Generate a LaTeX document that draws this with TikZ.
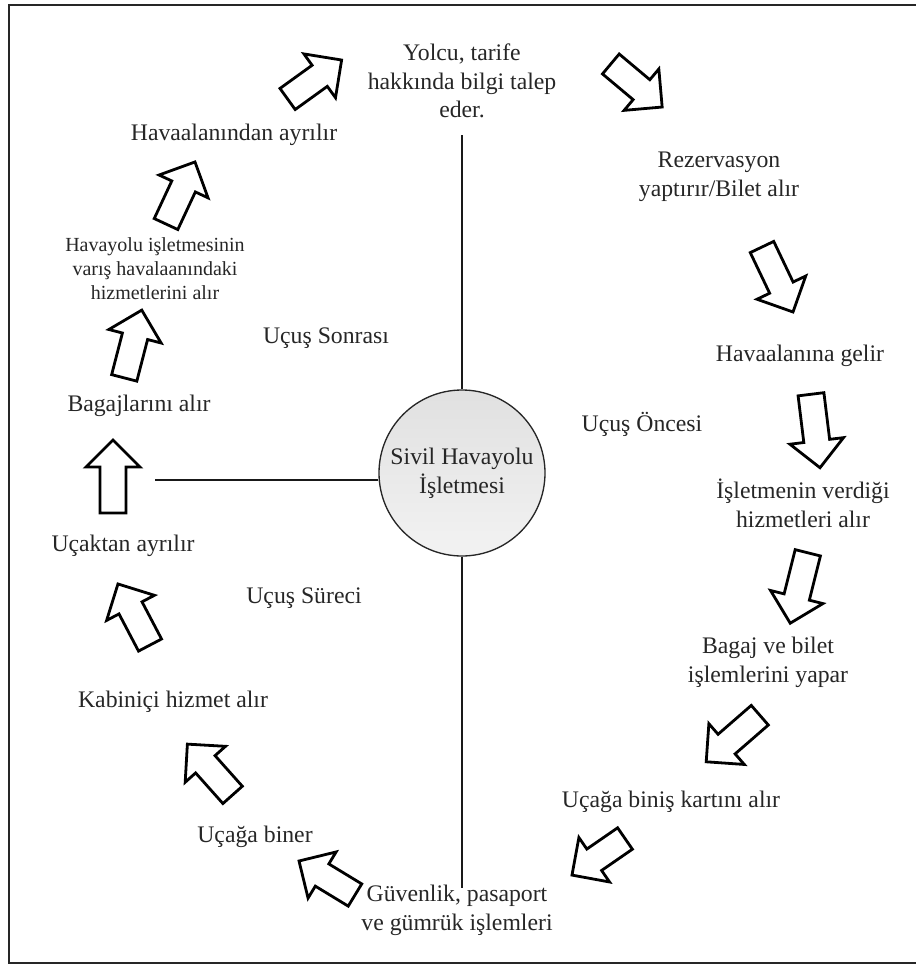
\documentclass[tikz,border=0pt]{standalone}
\usepackage{fontspec}
\setmainfont{Liberation Serif}
\newcommand\barrowat[4]{%
  \draw[blk,shift={(#1,#2)},rotate=#3]
    (-#4/2,-13) -- (#4/2-27,-13) -- (#4/2-27,-27) -- (#4/2,0) --
    (#4/2-27,27) -- (#4/2-27,13) -- (-#4/2,13) -- cycle;}
\begin{document}
\begin{tikzpicture}[x=0.75pt,y=-0.75pt,
  lbl/.style={font=\fontsize{17.8}{21.5}\selectfont, text=black!85, align=center, inner sep=0pt},
  small/.style={font=\fontsize{15}{18}\selectfont, text=black!85, align=center, inner sep=0pt},
  blk/.style={draw=black, line width=2.1pt, fill=white, line join=miter},
  axis/.style={line width=2pt, draw=black!90},
  frame/.style={line width=2.2pt, draw=black!85},
  hubstyle/.style={circle, draw=black!85, line width=1pt, top color=gray!24, bottom color=gray!10,
    minimum size=124.5pt, inner sep=0pt, align=center, text=black!85,
    font=\fontsize{17.8}{21.5}\selectfont}]
\useasboundingbox (0,0) rectangle (915,964);
\draw[frame] (9,5) rectangle (940,963);

% texts
\node[lbl] (yolcu) at (462,81) {Yolcu, tarife\\hakkında bilgi talep\\eder.};
\node[lbl] (rez) at (719,177) {Rezervasyon\\yaptırır/Bilet alır};
\node[lbl] (gelir) at (800,356) {Havaalanına gelir};
\node[lbl] (hizm) at (803,503) {İşletmenin verdiği\\hizmetleri alır};
\node[lbl] (bagaj) at (768,662) {Bagaj ve bilet\\işlemlerini yapar};
\node[lbl] (kart) at (671,802) {Uçağa biniş kartını alır};
\node[lbl] (guv) at (457,910) {Güvenlik, pasaport\\ve gümrük işlemleri};
\node[lbl] (biner) at (255,837) {Uçağa biner};
\node[lbl] (kabin) at (173,702) {Kabiniçi hizmet alır};
\node[lbl] (ucaktan) at (123,546) {Uçaktan ayrılır};
\node[lbl] (bagajlar) at (139,406) {Bagajlarını alır};
\node[small] (varis) at (155,269) {Havayolu işletmesinin\\varış havalaanındaki\\hizmetlerini alır};
\node[lbl] (ayrilir) at (234,135) {Havaalanından ayrılır};
\node[lbl] (sonra) at (326,338) {Uçuş Sonrası};
\node[lbl] (once) at (642,424) {Uçuş Öncesi};
\node[lbl] (surec) at (304,598) {Uçuş Süreci};

% hub and axes
\node[hubstyle] (hub) at (462,473) {Sivil Havayolu\\İşletmesi};
\coordinate (vtop) at (462,135);
\coordinate (vbot) at (462,888);
\coordinate (hleft) at (155,480);
\draw[axis] (vtop) -- (hub.north);
\draw[axis] (hub.south) -- (vbot);
\draw[axis] (hleft) -- (hleft -| hub.west);

% block arrows
\barrowat{314.6}{79.5}{35.8}{66.6}
\barrowat{636.5}{85.5}{-40}{67}
\barrowat{777.5}{279.5}{-64.5}{72}
\barrowat{815.5}{431}{-83}{74}
\barrowat{799}{588}{-104}{72.6}
\barrowat{733}{738.5}{-139}{71}
\barrowat{598.5}{856.8}{-145.4}{64.4}
\barrowat{327}{878}{148.7}{65.5}
\barrowat{210}{769.5}{131.7}{68}
\barrowat{134}{614.5}{117.7}{69}
\barrowat{113}{476.5}{90}{73}
\barrowat{133}{344}{75.5}{70}
\barrowat{180.5}{193}{65}{68.5}
\end{tikzpicture}
\end{document}
